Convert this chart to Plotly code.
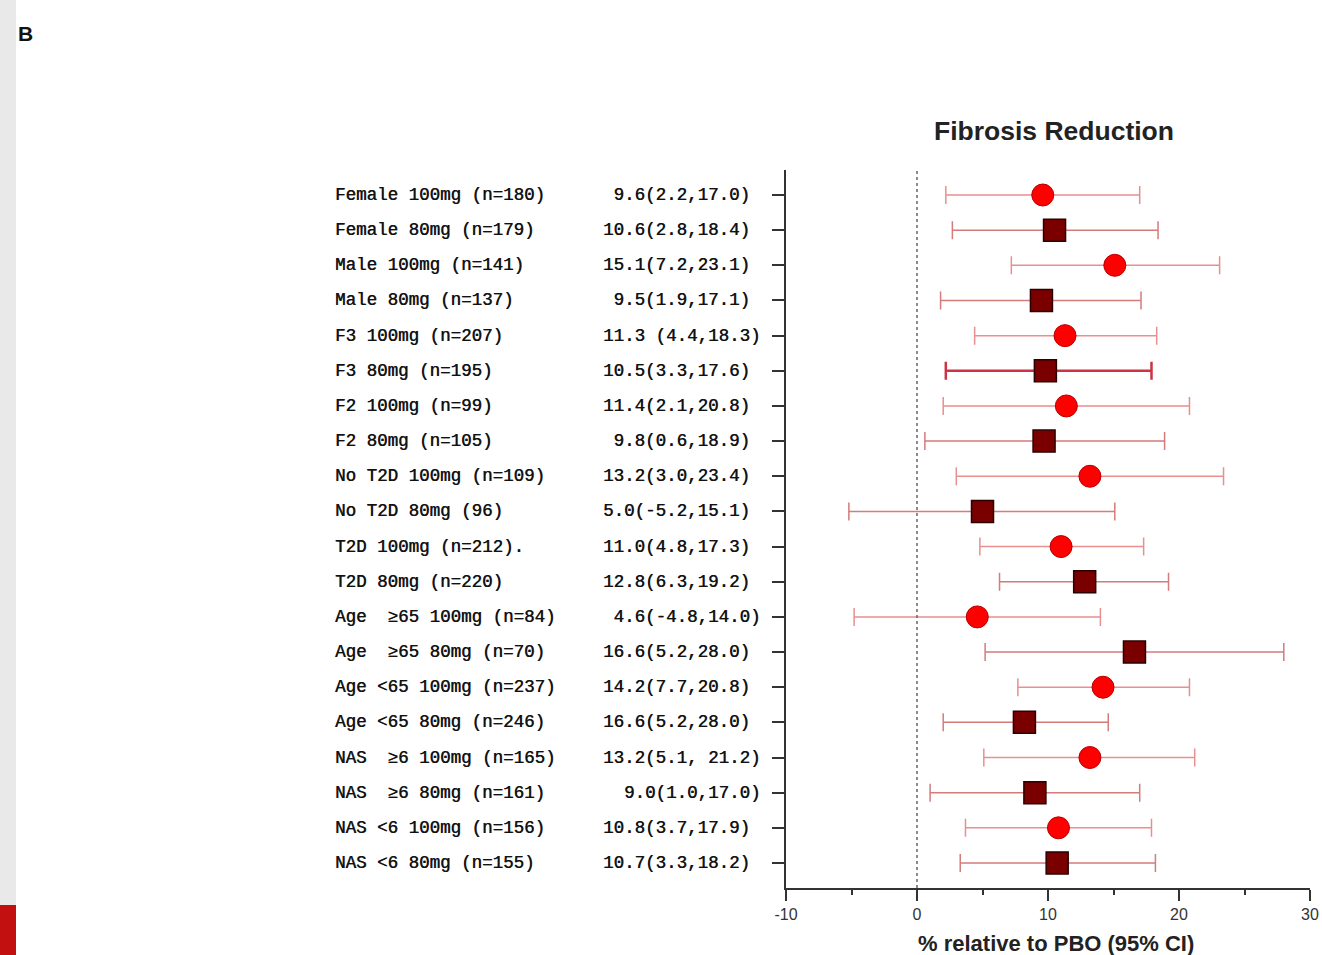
import plotly.graph_objects as go

W, H = 1322, 955

labels = [
    "Female 100mg (n=180)", "Female 80mg (n=179)", "Male 100mg (n=141)", "Male 80mg (n=137)",
    "F3 100mg (n=207)", "F3 80mg (n=195)", "F2 100mg (n=99)", "F2 80mg (n=105)",
    "No T2D 100mg (n=109)", "No T2D 80mg (96)", "T2D 100mg (n=212).", "T2D 80mg (n=220)",
    "Age  \u226565 100mg (n=84)", "Age  \u226565 80mg (n=70)", "Age <65 100mg (n=237)", "Age <65 80mg (n=246)",
    "NAS  \u22656 100mg (n=165)", "NAS  \u22656 80mg (n=161)", "NAS <6 100mg (n=156)", "NAS <6 80mg (n=155)",
]
ci_text = [
    "\u00a09.6(2.2,17.0)", "10.6(2.8,18.4)", "15.1(7.2,23.1)", "\u00a09.5(1.9,17.1)",
    "11.3 (4.4,18.3)", "10.5(3.3,17.6)", "11.4(2.1,20.8)", "\u00a09.8(0.6,18.9)",
    "13.2(3.0,23.4)", "5.0(-5.2,15.1)", "11.0(4.8,17.3)", "12.8(6.3,19.2)",
    "\u00a04.6(-4.8,14.0)", "16.6(5.2,28.0)", "14.2(7.7,20.8)", "16.6(5.2,28.0)",
    "13.2(5.1, 21.2)", "\u00a0\u00a09.0(1.0,17.0)", "10.8(3.7,17.9)", "10.7(3.3,18.2)",
]
dose = [100, 80] * 10
est = [9.6, 10.5, 15.1, 9.5, 11.3, 9.8, 11.4, 9.7, 13.2, 5.0,
       11.0, 12.8, 4.6, 16.6, 14.2, 8.2, 13.2, 9.0, 10.8, 10.7]
lo = [2.2, 2.7, 7.2, 1.8, 4.4, 2.2, 2.0, 0.6, 3.0, -5.2,
      4.8, 6.3, -4.8, 5.2, 7.7, 2.0, 5.1, 1.0, 3.7, 3.3]
hi = [17.0, 18.4, 23.1, 17.1, 18.3, 17.9, 20.8, 18.9, 23.4, 15.1,
      17.3, 19.2, 14.0, 28.0, 20.8, 14.6, 21.2, 17.0, 17.9, 18.2]
x_ticks = [-10, 0, 10, 20, 30]
x_ticktext = ["-10", "0", "10", "20", "30"]

rows = list(range(len(labels)))
highlight = 5  # row drawn with a bolder CI line in the original

fig = go.Figure()

def add_group(idx, symbol, fill, outline, lw, ecolor, ethick):
    fig.add_trace(go.Scatter(
        x=[est[i] for i in idx], y=[rows[i] for i in idx], mode="markers",
        marker=dict(symbol=symbol, size=22, color=fill, line=dict(color=outline, width=lw)),
        error_x=dict(type="data", symmetric=False,
                     array=[hi[i] - est[i] for i in idx],
                     arrayminus=[est[i] - lo[i] for i in idx],
                     color=ecolor, thickness=ethick, width=9),
        showlegend=False, hoverinfo="skip", cliponaxis=False,
    ))

idx100 = [i for i in rows if dose[i] == 100]
idx80 = [i for i in rows if dose[i] == 80 and i != highlight]
add_group(idx100, "circle", "#ff0000", "#b80000", 1, "#e88f8f", 1.5)
add_group(idx80, "square", "#7a0000", "#2a0000", 1.5, "#d47b7b", 1.5)
add_group([highlight], "square", "#7a0000", "#2a0000", 1.5, "#cc3344", 2.5)

x0p, x1p = 786 / W, 1310 / W
ytop, ybot = 170, 888
fig.update_layout(
    width=W, height=H, margin=dict(l=0, r=0, t=0, b=0, pad=0), autosize=False,
    paper_bgcolor="white", plot_bgcolor="white", showlegend=False,
    xaxis=dict(domain=[x0p, x1p], range=[-10, 30], tickvals=x_ticks, ticktext=x_ticktext,
               automargin=False,
               ticks="outside", ticklen=11, tickwidth=2, tickcolor="#333",
               minor=dict(dtick=5, tick0=-10, ticks="outside", ticklen=5, tickwidth=2, tickcolor="#333"),
               showline=True, linecolor="#333", linewidth=2, showgrid=False, zeroline=False,
               tickfont=dict(family="Liberation Sans, Arial", size=16, color="#333")),
    yaxis=dict(domain=[1 - ybot / H, 1 - ytop / H], range=[19.711, -0.711], automargin=False,
               tickvals=rows, ticktext=[""] * len(rows),
               ticks="outside", ticklen=12, tickwidth=2, tickcolor="#333",
               showline=True, linecolor="#333", linewidth=2, showgrid=False, zeroline=False),
)

# dotted reference line at zero
fig.add_shape(type="line", xref="x", yref="paper", x0=0, x1=0,
              y0=1 - ybot / H, y1=1 - ytop / H,
              line=dict(color="#666", width=1.5, dash="dot"))

mono = dict(family="Liberation Mono, Courier New, monospace", size=17.5, color="#111",
            shadow="0.5px 0px 0px #333")
for i in rows:
    fig.add_annotation(x=333 / W, xref="paper", y=rows[i], yref="y", text=labels[i],
                       xanchor="left", yanchor="middle", showarrow=False, font=mono)
    fig.add_annotation(x=601 / W, xref="paper", y=rows[i], yref="y", text=ci_text[i],
                       xanchor="left", yanchor="middle", showarrow=False, font=mono)

fig.add_annotation(x=1054 / W, xref="paper", y=1 - 131 / H, yref="paper",
                   text="<b>Fibrosis Reduction</b>", showarrow=False,
                   xanchor="center", yanchor="middle",
                   font=dict(family="Liberation Sans, Arial", size=26.5, color="#222"))
fig.add_annotation(x=1056 / W, xref="paper", y=1 - 943 / H, yref="paper",
                   text="<b>% relative to PBO (95% CI)</b>", showarrow=False,
                   xanchor="center", yanchor="middle",
                   font=dict(family="Liberation Sans, Arial", size=22, color="#222"))
fig.add_annotation(x=16 / W, xref="paper", y=1 - 33 / H, yref="paper",
                   text="<b>B</b>", showarrow=False, xanchor="left", yanchor="middle",
                   font=dict(family="Liberation Sans, Arial", size=21, color="#111"))

# page decoration strips
fig.add_shape(type="rect", xref="paper", yref="paper", x0=0, x1=16 / W,
              y0=1 - 905 / H, y1=1, fillcolor="#e9e9e9", line=dict(width=0), layer="below")
fig.add_shape(type="rect", xref="paper", yref="paper", x0=0, x1=16 / W,
              y0=0, y1=1 - 905 / H, fillcolor="#c20f0f", line=dict(width=0), layer="below")

fig.write_html("out.html")
